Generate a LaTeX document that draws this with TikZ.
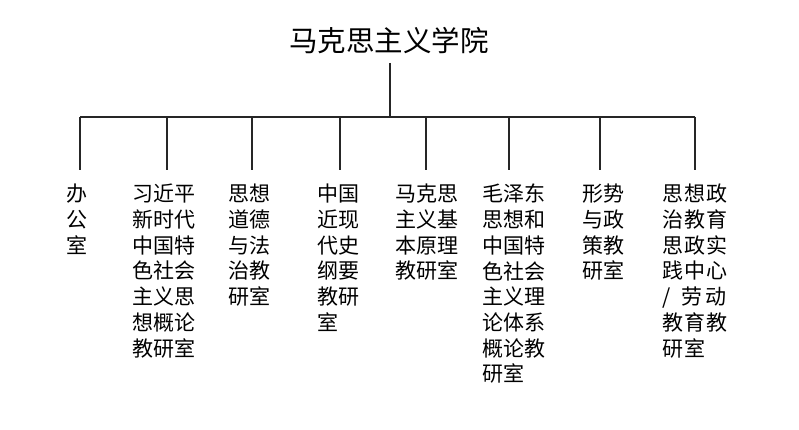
\documentclass[tikz,border=0pt]{standalone}
\usepackage{fontspec}
\newfontfamily\cjk{Noto Sans CJK SC}
\newfontfamily\cjkwide[LetterSpace=5]{Noto Sans CJK SC}
\begin{document}
\begin{tikzpicture}[x=1pt,y=-1pt,
  conn/.style={line width=1.3pt,draw=black!85},
  unit/.style={anchor=north west,inner sep=0pt,align=left,font=\cjk\fontsize{21}{25.7}\selectfont},
  title/.style={inner sep=0pt,font=\cjk\fontsize{28.5}{30}\selectfont}]
\useasboundingbox[fill=white] (0,0) rectangle (799,430);
\node[title] (root) at (389,41) {马克思主义学院};
\coordinate (top) at (390,63);
\coordinate (mid) at (390,117);
\foreach \n/\x in {a/80,b/167,c/252,d/340,e/426,f/509,g/600,h/695}{
  \coordinate (bar\n) at (\x,117);
  \coordinate (drop\n) at (\x,170);
}
\draw[conn] (top) -- (mid);
\draw[conn] (bara) -- (barh);
\foreach \n in {a,b,c,d,e,f,g,h}{
  \draw[conn] (bar\n) -- (drop\n);
}
\node[unit] (u1) at (66,184) {办\\公\\室};
\node[unit] (u2) at (132,184) {习近平\\新时代\\中国特\\色社会\\主义思\\想概论\\教研室};
\node[unit] (u3) at (228,184) {思想\\道德\\与法\\治教\\研室};
\node[unit] (u4) at (317,184) {中国\\近现\\代史\\纲要\\教研\\室};
\node[unit] (u5) at (395,184) {马克思\\主义基\\本原理\\教研室};
\node[unit] (u6) at (482,184) {毛泽东\\思想和\\中国特\\色社会\\主义理\\论体系\\概论教\\研室};
\node[unit] (u7) at (582,184) {形势\\与政\\策教\\研室};
\node[unit,font=\cjkwide\fontsize{21}{25.7}\selectfont] (u8) at (662,184) {思想政\\治教育\\思政实\\践中心\\\makebox[19pt][l]{/}劳\hspace{3pt}动\\教育教\\研室};
\end{tikzpicture}
\end{document}
